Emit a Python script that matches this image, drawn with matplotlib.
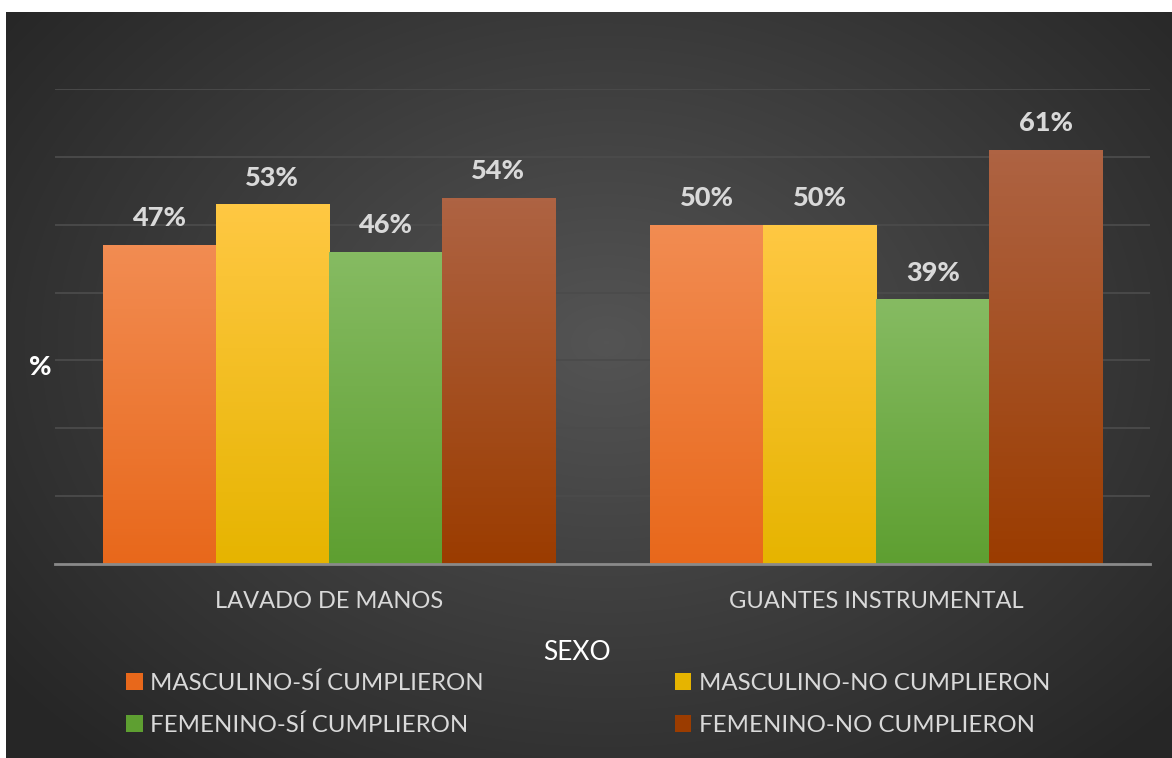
import numpy as np
import matplotlib
matplotlib.use("Agg")
import matplotlib.pyplot as plt
from matplotlib.patches import Patch

plt.rcParams['font.family'] = ['Lato', 'DejaVu Sans']

categories = ['LAVADO DE MANOS', 'GUANTES INSTRUMENTAL']
series = ['MASCULINO-SÍ CUMPLIERON', 'MASCULINO-NO CUMPLIERON',
          'FEMENINO-SÍ CUMPLIERON', 'FEMENINO-NO CUMPLIERON']
masc_si = [47, 50]
masc_no = [53, 50]
fem_si = [46, 39]
fem_no = [54, 61]
values = [masc_si, masc_no, fem_si, fem_no]

# (top, bottom) colours of each bar gradient
grad = [('#f28c52', '#e8681b'),
        ('#ffc843', '#e6b400'),
        ('#86bb62', '#5e9f31'),
        ('#ae6343', '#9b3c00')]
txt = '#d9d9d9'

W, H = 1172, 758
fig = plt.figure(figsize=(W / 100, H / 100), dpi=100, facecolor='white')

# dark radial background
bg = fig.add_axes([6 / W, 0, 1 - 6 / W, 1 - 12 / H])
yy, xx = np.mgrid[0:746, 0:1166]
r = np.sqrt(((xx - 600) / 760) ** 2 + ((yy - 330) / 560) ** 2)
g = 0.33 - (0.33 - 0.15) * np.clip(r, 0, 1)
bg.imshow(np.dstack([g, g, g]), aspect='auto', interpolation='bilinear')
bg.axis('off')

ax = fig.add_axes([55 / W, (H - 564) / H, 1095 / W, (564 - 89) / H])
ax.set_facecolor('none')

x = np.arange(len(categories))
w = 0.2064
for i, vals in enumerate(values):
    bars = ax.bar(x + (i - 1.5) * w, vals, w, color=grad[i][1], zorder=2)
    top = np.array(matplotlib.colors.to_rgb(grad[i][0]))
    bot = np.array(matplotlib.colors.to_rgb(grad[i][1]))
    t = np.linspace(0, 1, 100)[:, None, None]
    img = bot + (top - bot) * t
    for b, v in zip(bars, vals):
        x0 = b.get_x()
        im = ax.imshow(img, extent=(x0, x0 + w, 0, v), origin='lower',
                       aspect='auto', zorder=3)
        im.set_clip_path(b)
        ax.annotate(f'{v}%', (x0 + w / 2, v), xytext=(0, 10.5),
                    textcoords='offset points', ha='center', va='bottom',
                    fontsize=19.5, fontweight='black', color=txt, zorder=4)

ax.set_xlim(-0.5, 1.5)
ax.set_ylim(0, 70)
ax.set_yticks(np.arange(10, 71, 10))
ax.yaxis.grid(True, color='#4b4b4b', linewidth=1.3)
ax.set_axisbelow(True)
ax.tick_params(left=False, labelleft=False, bottom=False)
ax.set_xticks(x)
ax.set_xticklabels(categories, color=txt, fontsize=17)
ax.tick_params(axis='x', pad=16)
for s in ['top', 'right', 'left']:
    ax.spines[s].set_visible(False)
ax.spines['bottom'].set_color('#8a8a8a')
ax.spines['bottom'].set_linewidth(2)
ax.spines['bottom'].set_zorder(5)

fig.text(40 / W, 1 - 367 / H, '%', color='white', fontsize=19.5,
         fontweight='black', ha='center', va='center')
fig.text(577 / W, 1 - 652 / H, 'SEXO', color='white', fontsize=19,
         ha='center', va='center')

handles = [Patch(facecolor=grad[i][1]) for i in (0, 2, 1, 3)]
labels = [series[i] for i in (0, 2, 1, 3)]
fig.legend(handles, labels, ncol=2, loc='upper left',
           bbox_to_anchor=(126 / W, 1 - 672 / H), frameon=False,
           borderpad=0, borderaxespad=0,
           fontsize=17.3, labelcolor=txt, handlelength=0.7, handleheight=0.7,
           handletextpad=0.3, columnspacing=7.95, labelspacing=0.88)

fig.savefig('out.png', dpi=100, facecolor='white')
